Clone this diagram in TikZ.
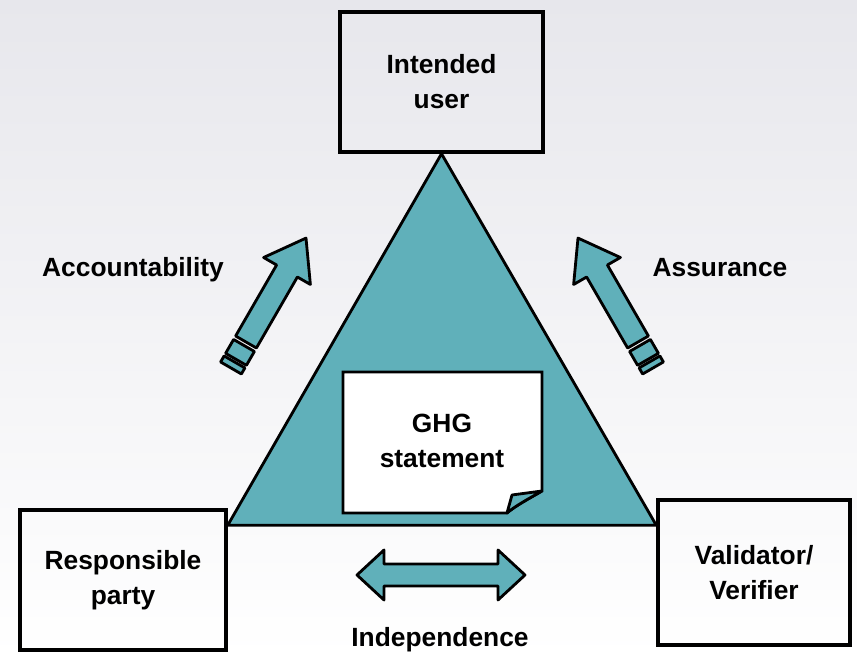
\documentclass[tikz,border=0pt]{standalone}
\usepackage{fontspec}
\setmainfont{Liberation Sans}
\usetikzlibrary{positioning}
\definecolor{T}{RGB}{96, 176, 186}
\definecolor{BG}{RGB}{231, 231, 236}
\tikzset{
  party/.style={draw=black, line width=2pt, align=center, inner sep=0pt,
    font=\bfseries\fontsize{15}{20}\selectfont},
  lbl/.style={font=\bfseries\fontsize{15}{20}\selectfont},
  teal/.style={fill=T, draw=black, line width=1.6pt, line join=round},
  brokenarrow/.pic={
    \filldraw[teal] (0,-12) rectangle (7,12);
    \filldraw[teal] (10,-12) rectangle (26,12);
    \filldraw[teal] (30,-12) -- (112,-12) -- (112,-27) -- (150,0)
      -- (112,27) -- (112,12) -- (30,12) -- cycle;
  }
}

\begin{document}
\begin{tikzpicture}[x=0.02cm, y=0.02cm]
  \useasboundingbox (0,0) rectangle (857,658);
  \shade[top color=BG, bottom color=white] (0,0) rectangle (857,658);

  % the three parties
  \node[party, minimum width=4.06cm, minimum height=2.8cm] (user) at (441.5,576) {Intended\\user};
  \node[party, minimum width=4.12cm, minimum height=2.8cm] (resp) at (123,78) {Responsible\\party};
  \node[party, minimum width=3.84cm, minimum height=2.9cm] (verif) at (754,85.5) {Validator/\\Verifier};

  % triangle
  \coordinate (apex) at (user.south);
  \coordinate (baseL) at ([yshift=-0.34cm]resp.north east);
  \coordinate (baseR) at ([yshift=-0.54cm]verif.north west);
  \filldraw[teal] (apex) -- (baseR) -- (baseL) -- cycle;

  % GHG statement sheet
  \filldraw[fill=white, draw=black, line width=1.6pt] (343,286) -- (542,286) -- (542,167)
    .. controls (530,160) and (515,152) .. (507,145) -- (343,145) -- cycle;
  \filldraw[teal] (542,167) -- (512,163) -- (507,145)
    .. controls (515,152) and (530,160) .. (542,167);
  \node[lbl, align=center] (ghg) at (442,217) {GHG\\statement};

  % arrows
  \pic[rotate=60] at (231,290) {brokenarrow};
  \pic[rotate=120] at (653,290) {brokenarrow};
  \filldraw[teal] (357,83) -- (384,108) -- (384,94) -- (498,94) -- (498,108) -- (525,83)
    -- (498,58) -- (498,72) -- (384,72) -- (384,58) -- cycle;

  % labels
  \node[lbl] (acc) at (133,388) {Accountability};
  \node[lbl] (ass) at (720,390) {Assurance};
  \node[lbl] (ind) at (440,18) {Independence};
\end{tikzpicture}
\end{document}
